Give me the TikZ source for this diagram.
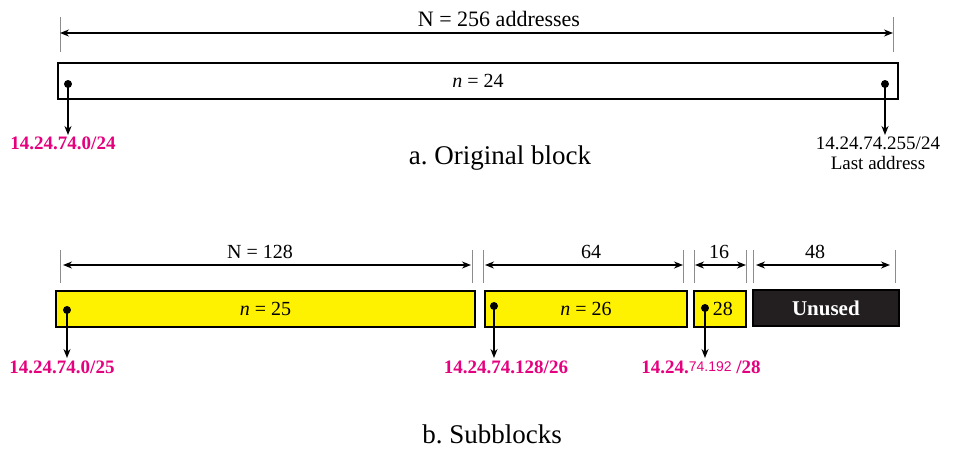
\documentclass[tikz,border=0pt]{standalone}
\usepackage{fontspec}
\setmainfont{Liberation Serif}
\newfontfamily\smallsans{Liberation Sans}
\usetikzlibrary{arrows.meta,positioning}
\definecolor{addrpink}{HTML}{E5007E}
\definecolor{blockyellow}{HTML}{FFF200}
\definecolor{unusedblack}{HTML}{231F20}
\definecolor{tickgray}{HTML}{8C8C8C}

\begin{document}
\frenchspacing
\begin{tikzpicture}[x=1pt,y=-1pt,>={Stealth[length=9pt,width=7pt]},
  blockbox/.style={draw=black,line width=1.8pt,anchor=north west,inner sep=0pt,
    minimum height=36pt,font=\fontsize{20}{20}\selectfont},
  dimline/.style={<->,line width=1.4pt},
  tickline/.style={draw=tickgray,line width=0.7pt},
  dimlabel/.style={font=\fontsize{20}{20}\selectfont},
  addrdot/.style={circle,fill=black,inner sep=0pt,minimum size=8pt},
  addrarrow/.style={->,line width=1.6pt},
  addrlabel/.style={anchor=north,text=addrpink,inner sep=3pt,
    font=\fontsize{19}{19}\selectfont\bfseries},
  caption/.style={font=\fontsize{27}{27}\selectfont}]

  \useasboundingbox (0,0) rectangle (955,461);

  % a. original block
  \draw[tickline] (60,17) -- (60,52);
  \draw[tickline] (893,17) -- (893,52);
  \coordinate (dimL) at (60,33);
  \coordinate (dimR) at (893,33);
  \draw[dimline] (dimL) -- (dimR);
  \node[font=\fontsize{22}{22}\selectfont] (origlen) at (499,19) {N = 256 addresses};
  \node[blockbox,minimum width=840pt] (orig) at (57,62) {\textit{n} = 24};

  \node[addrdot] (firstdot) at (68,84) {};
  \node[addrdot] (lastdot) at (885,84) {};
  \node[addrlabel,inner sep=2pt] (firstaddr) at (63,135) {14.24.74.0/24};
  \node[anchor=north,align=center,inner sep=2pt,font=\fontsize{19}{20}\selectfont]
    (lastaddr) at (878,135) {14.24.74.255/24\\Last address};
  \draw[addrarrow] (firstdot.center) -- (firstdot.center |- firstaddr.north);
  \draw[addrarrow] (lastdot.center) -- (lastdot.center |- lastaddr.north);
  \node[caption] (capa) at (500,158) {a. Original block};

  % b. subblocks
  \foreach \xa/\xb/\ya/\yb/\lx/\txt in {60/472/63/471/260/{N = 128},
      483/683/485/683/591/64,694/746/695/746/719/16,753/895/756/890/815/48}{
    \draw[tickline] (\xa,250) -- (\xa,283);
    \draw[tickline] (\xb,250) -- (\xb,283);
    \coordinate (subL) at (\ya,265);
    \coordinate (subR) at (\yb,265);
    \draw[dimline] (subL) -- (subR);
    \node[dimlabel] at (\lx,252) {\txt};
  }

  \node[blockbox,fill=blockyellow,minimum width=419pt] (sub25) at (55,290) {\textit{n} = 25};
  \node[blockbox,fill=blockyellow,minimum width=202pt] (sub26) at (484,290) {\textit{n} = 26};
  \node[blockbox,fill=blockyellow,minimum width=52pt] (sub28) at (693,290) {\hspace{6pt}28};
  \node[blockbox,fill=unusedblack,minimum width=146pt,text=white,
    font=\fontsize{21}{21}\selectfont\bfseries] (unused) at (752,289) {Unused};

  \foreach \nm/\dx/\dy/\lx/\txt in {a/67/310/62/{14.24.74.0/25},
      b/494/306/506/{14.24.74.128/26},
      c/705/308/701/{14.24.\raisebox{2pt}{\smallsans\fontsize{14}{14}\selectfont\mdseries 74.192} /28}}{
    \node[addrdot] (dot\nm) at (\dx,\dy) {};
    \node[addrlabel] (addr\nm) at (\lx,358) {\txt};
    \draw[addrarrow] (dot\nm.center) -- (dot\nm.center |- addr\nm.north);
  }
  \node[caption] (capb) at (492,434) {b. Subblocks};
\end{tikzpicture}
\end{document}
